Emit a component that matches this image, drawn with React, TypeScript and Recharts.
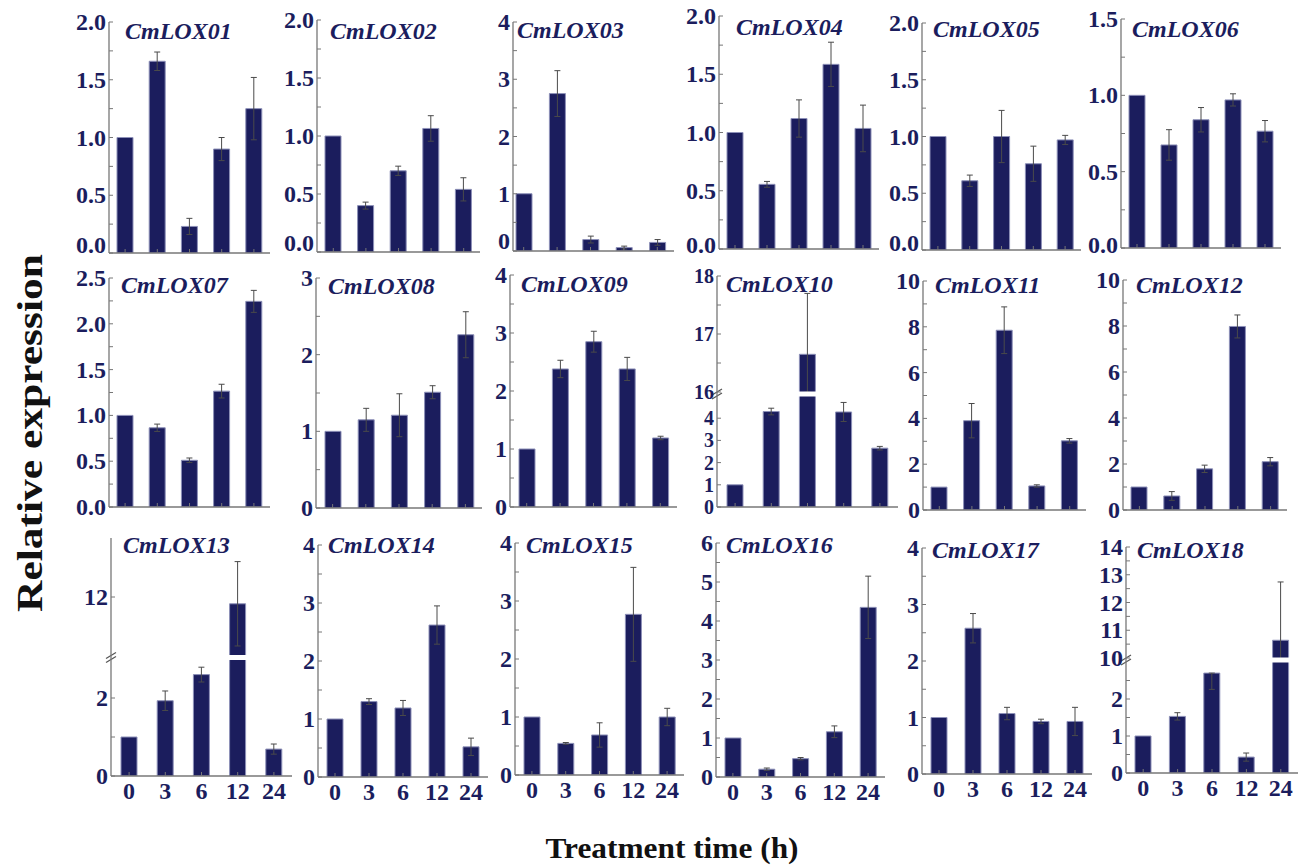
import React from 'react';
import { BarChart, Bar, XAxis, YAxis, ErrorBar, ReferenceLine } from 'recharts';

// sampling times (h)
const times = ['0', '3', '6', '12', '24'];

// relative expression, mean and SD per gene
const lox01 = [1.0, 1.66, 0.23, 0.9, 1.25];
const lox01Sd = [null, 0.08, 0.07, 0.1, 0.27];
const lox02 = [1.0, 0.4, 0.7, 1.065, 0.54];
const lox02Sd = [null, 0.03, 0.04, 0.11, 0.1];
const lox03 = [1.0, 2.75, 0.2, 0.06, 0.15];
const lox03Sd = [null, 0.4, 0.06, 0.025, 0.05];
const lox04 = [1.0, 0.555, 1.12, 1.585, 1.035];
const lox04Sd = [null, 0.025, 0.16, 0.19, 0.2];
const lox05 = [1.0, 0.61, 1.0, 0.76, 0.97];
const lox05Sd = [null, 0.05, 0.23, 0.155, 0.04];
const lox06 = [1.0, 0.675, 0.84, 0.97, 0.765];
const lox06Sd = [null, 0.1, 0.08, 0.04, 0.07];
const lox07 = [1.0, 0.865, 0.51, 1.265, 2.245];
const lox07Sd = [null, 0.04, 0.025, 0.075, 0.12];
const lox08 = [1.0, 1.15, 1.21, 1.51, 2.26];
const lox08Sd = [null, 0.15, 0.28, 0.085, 0.3];
const lox09 = [1.0, 2.38, 2.85, 2.38, 1.19];
const lox09Sd = [null, 0.15, 0.18, 0.2, 0.03];
const lox10 = [1.0, 4.3, 16.65, 4.28, 2.65];
const lox10Sd = [null, 0.15, 1.05, 0.43, 0.08];
const lox11 = [1.0, 3.9, 7.85, 1.05, 3.02];
const lox11Sd = [null, 0.75, 1.02, 0.05, 0.1];
const lox12 = [1.0, 0.61, 1.79, 7.98, 2.1];
const lox12Sd = [null, 0.19, 0.16, 0.5, 0.18];
const lox13 = [1.0, 1.93, 2.6, 11.77, 0.69];
const lox13Sd = [null, 0.25, 0.19, 1.43, 0.13];
const lox14 = [1.0, 1.3, 1.19, 2.62, 0.52];
const lox14Sd = [null, 0.05, 0.13, 0.33, 0.15];
const lox15 = [1.0, 0.545, 0.69, 2.77, 1.0];
const lox15Sd = [null, 0.015, 0.21, 0.81, 0.15];
const lox16 = [1.0, 0.2, 0.47, 1.16, 4.35];
const lox16Sd = [null, 0.03, 0.03, 0.15, 0.8];
const lox17 = [1.0, 2.58, 1.07, 0.93, 0.93];
const lox17Sd = [null, 0.26, 0.11, 0.04, 0.25];
const lox18 = [1.0, 1.53, 2.7, 0.43, 10.64];
const lox18Sd = [null, 0.1, [0.44, 0], 0.11, 2.1];

// y tick labels
const ticks2 = [0, 0.5, 1, 1.5, 2];
const ticks15 = [0, 0.5, 1, 1.5];
const ticks25 = [0, 0.5, 1, 1.5, 2, 2.5];
const ticks3 = [0, 1, 2, 3];
const ticks4 = [0, 1, 2, 3, 4];
const ticks6 = [0, 1, 2, 3, 4, 5, 6];
const ticks10 = [0, 2, 4, 6, 8, 10];
const lox10Ticks = [0, 1, 2, 3, 4, 16, 17, 18];
const lox13Ticks = [0, 2, 12];
const lox18Ticks = [0, 1, 2, 10, 11, 12, 13, 14];

const NAVY = '#1b1d5d';
const AXIS = '#777';
const SERIF = '"Liberation Serif", "Times New Roman", serif';

type Err = number | number[] | null;
type Panel = {
  name: string;
  values: number[];
  sd: Err[];
  ticks: number[];
  minor?: number[];
  digits: number;
  x: number;
  top: number;
  bottom: number;
  right: number;
  tx: number;
  ty: number;
  breaks?: number[][];
  padLeft?: number;
  zeroShift?: number;
  showX?: boolean;
  fs?: number;
};

const panels: Panel[] = [
  { name: 'CmLOX01', values: lox01, sd: lox01Sd, ticks: ticks2, digits: 1, x: 109, top: 22, bottom: 253, right: 270, tx: 125, ty: 39, zeroShift: -8 },
  { name: 'CmLOX02', values: lox02, sd: lox02Sd, ticks: ticks2, digits: 1, x: 317, top: 20, bottom: 252, right: 480, tx: 330, ty: 39, zeroShift: -9 },
  { name: 'CmLOX03', values: lox03, sd: lox03Sd, ticks: ticks4, digits: 0, x: 513, top: 22, bottom: 251, right: 674, tx: 517, ty: 38, padLeft: -6, zeroShift: -10 },
  { name: 'CmLOX04', values: lox04, sd: lox04Sd, ticks: ticks2, digits: 1, x: 719, top: 16, bottom: 249, right: 879, tx: 736, ty: 35, zeroShift: -4 },
  { name: 'CmLOX05', values: lox05, sd: lox05Sd, ticks: ticks2, digits: 1, x: 922, top: 23, bottom: 250, right: 1081, tx: 933, ty: 37, zeroShift: -7 },
  { name: 'CmLOX06', values: lox06, sd: lox06Sd, ticks: ticks15, digits: 1, x: 1121, top: 19, bottom: 248, right: 1281, tx: 1132, ty: 37, zeroShift: -3 },

  { name: 'CmLOX07', values: lox07, sd: lox07Sd, ticks: ticks25, digits: 1, x: 109, top: 278, bottom: 507, right: 270, tx: 121, ty: 293 },
  { name: 'CmLOX08', values: lox08, sd: lox08Sd, ticks: ticks3, digits: 0, x: 316, top: 278, bottom: 508, right: 482, tx: 328, ty: 294 },
  { name: 'CmLOX09', values: lox09, sd: lox09Sd, ticks: ticks4, digits: 0, x: 510, top: 275, bottom: 507, right: 677, tx: 521, ty: 292 },
  {
    name: 'CmLOX10', values: lox10, sd: lox10Sd, ticks: lox10Ticks, minor: [16.5, 17.5], digits: 0,
    x: 717, top: 276, bottom: 507, right: 898, tx: 726, ty: 292, fs: 20,
    breaks: [[0, 0], [5, 111], [16, 115], [18, 231]],
  },
  { name: 'CmLOX11', values: lox11, sd: lox11Sd, ticks: ticks10, digits: 0, x: 923, top: 281, bottom: 510, right: 1086, tx: 935, ty: 293 },
  { name: 'CmLOX12', values: lox12, sd: lox12Sd, ticks: ticks10, digits: 0, x: 1123, top: 280, bottom: 510, right: 1287, tx: 1136, ty: 293 },

  {
    name: 'CmLOX13', values: lox13, sd: lox13Sd, ticks: lox13Ticks, minor: [1], digits: 0,
    x: 111, top: 538, bottom: 776, right: 292, tx: 123, ty: 553, showX: true,
    breaks: [[0, 0], [3, 117], [10, 120], [14, 238]],
  },
  { name: 'CmLOX14', values: lox14, sd: lox14Sd, ticks: ticks4, digits: 0, x: 318, top: 545, bottom: 777, right: 488, tx: 328, ty: 553, showX: true },
  { name: 'CmLOX15', values: lox15, sd: lox15Sd, ticks: ticks4, digits: 0, x: 515, top: 543, bottom: 775, right: 684, tx: 526, ty: 553, showX: true },
  { name: 'CmLOX16', values: lox16, sd: lox16Sd, ticks: ticks6, digits: 0, x: 716, top: 543, bottom: 777, right: 885, tx: 726, ty: 553, showX: true },
  { name: 'CmLOX17', values: lox17, sd: lox17Sd, ticks: ticks4, digits: 0, x: 922, top: 548, bottom: 774, right: 1092, tx: 932, ty: 558, showX: true },
  {
    name: 'CmLOX18', values: lox18, sd: lox18Sd, ticks: lox18Ticks, minor: [0.5, 1.5, 2.5, 10.5, 11.5, 12.5, 13.5], digits: 0,
    x: 1126, top: 547, bottom: 773, right: 1298, tx: 1137, ty: 558, showX: true,
    breaks: [[0, 0], [3, 111], [10, 115], [14, 226]],
  },
];

// piecewise linear map for the broken axes
function toDisplay(bp: number[][] | undefined, v: number) {
  if (!bp) return v;
  for (let i = 0; i < bp.length - 1; i++) {
    const [v0, d0] = bp[i];
    const [v1, d1] = bp[i + 1];
    if (v <= v1 || i === bp.length - 2) return d0 + ((v - v0) * (d1 - d0)) / (v1 - v0);
  }
  return v;
}

const BreakMark = (props: any) => {
  const vb = props.viewBox || {};
  const x = vb.x ?? 0;
  const y = vb.y ?? 0;
  return (
    <g stroke="#555" strokeWidth={1.2}>
      <line x1={x - 5} y1={y + 1} x2={x + 5} y2={y - 5} />
      <line x1={x - 5} y1={y + 5} x2={x + 5} y2={y - 1} />
    </g>
  );
};

function GenePanel({ p }: { p: Panel }) {
  const mt = 12;
  const yw = 60;
  const xh = 36;
  const mr = 6;
  const plotW = p.right - p.x;
  const plotH = p.bottom - p.top;
  const map = (v: number) => toDisplay(p.breaks, v);
  const fs = p.fs || 24;

  const data = times.map((t, i) => {
    const v = p.values[i];
    const e = p.sd[i];
    let err: number[] | null = null;
    if (e != null) {
      const [lo, hi] = Array.isArray(e) ? e : [e, e];
      err = [map(v) - map(Math.max(0, v - lo)), map(v + hi) - map(v)];
    }
    return { time: t, value: map(v), err };
  });

  let minor = p.minor || [];
  if (!p.breaks) {
    minor = [];
    for (let i = 0; i < p.ticks.length - 1; i++) minor.push((p.ticks[i] + p.ticks[i + 1]) / 2);
  }
  const labels = new Map<number, string>();
  p.ticks.forEach((t) => labels.set(map(t), t.toFixed(p.digits)));
  const allTicks = [...p.ticks, ...minor].map(map).sort((a, b) => a - b);
  const maxY = p.breaks ? p.breaks[p.breaks.length - 1][1] : p.ticks[p.ticks.length - 1];
  const breakY = p.breaks ? (p.breaks[1][1] + p.breaks[2][1]) / 2 : null;

  const yTick = (props: any) => {
    const v = props.payload.value;
    const label = labels.get(v);
    if (!label) return <g />;
    const shift = v === 0 ? p.zeroShift || 0 : 0;
    return (
      <text x={props.x} y={props.y + shift} textAnchor="end" dominantBaseline="central"
        fontFamily={SERIF} fontWeight={700} fontSize={fs} fill={NAVY}>
        {label}
      </text>
    );
  };

  const xTick = (props: any) => {
    if (!p.showX) return <g />;
    return (
      <text x={props.x} y={props.y} dy="0.71em" textAnchor="middle"
        fontFamily={SERIF} fontWeight={700} fontSize={24} fill={NAVY}>
        {props.payload.value}
      </text>
    );
  };

  return (
    <div style={{ position: 'absolute', left: p.x - yw, top: p.top - mt }}>
      <BarChart width={yw + plotW + mr} height={mt + plotH + xh} data={data}
        margin={{ top: mt, right: mr, left: 0, bottom: 0 }}>
        <XAxis dataKey="time" height={xh} interval={0}
          padding={{ left: p.padLeft || 0, right: 0 }}
          axisLine={{ stroke: AXIS, strokeWidth: 1.3 }} tickLine={{ stroke: AXIS }}
          tickSize={-4} tickMargin={10} tick={xTick} />
        <YAxis type="number" width={yw} domain={[0, maxY]} ticks={allTicks} interval={0}
          allowDataOverflow axisLine={{ stroke: AXIS, strokeWidth: 1.3 }} tickLine={{ stroke: AXIS }}
          tickSize={-4} tickMargin={7} tick={yTick} />
        <Bar dataKey="value" fill={NAVY} stroke="#8d90b8" strokeWidth={1} barSize={16}
          isAnimationActive={false}>
          <ErrorBar dataKey="err" direction="y" width={3} stroke="#4a4a4a" strokeWidth={1}
            isAnimationActive={false} />
        </Bar>
        {breakY != null && (
          <ReferenceLine y={breakY} stroke="#ffffff" strokeWidth={5}
            label={(lp: any) => <BreakMark {...lp} />} />
        )}
      </BarChart>
    </div>
  );
}

export default function App() {
  return (
    <div style={{ position: 'absolute', left: 0, top: 0, width: 1306, height: 866, background: '#fff' }}>
      {panels.map((p) => (
        <GenePanel key={p.name} p={p} />
      ))}
      <svg width={1306} height={866} style={{ position: 'absolute', left: 0, top: 0, pointerEvents: 'none' }}>
        {panels.map((p) => (
          <text key={p.name} x={p.tx} y={p.ty} fontFamily={SERIF} fontWeight={700} fontStyle="italic"
            fontSize={24} fill={NAVY}>
            {p.name}
          </text>
        ))}
        <text x={30} y={433} transform="rotate(-90 30 433)" textAnchor="middle" dominantBaseline="central"
          fontFamily={SERIF} fontWeight={700} fontSize={36} fill="#111" textLength={358}
          lengthAdjust="spacingAndGlyphs">
          Relative expression
        </text>
        <text x={672} y={858} textAnchor="middle" fontFamily={SERIF} fontWeight={700} fontSize={30}
          fill="#111" textLength={253} lengthAdjust="spacingAndGlyphs">
          Treatment time (h)
        </text>
      </svg>
    </div>
  );
}
